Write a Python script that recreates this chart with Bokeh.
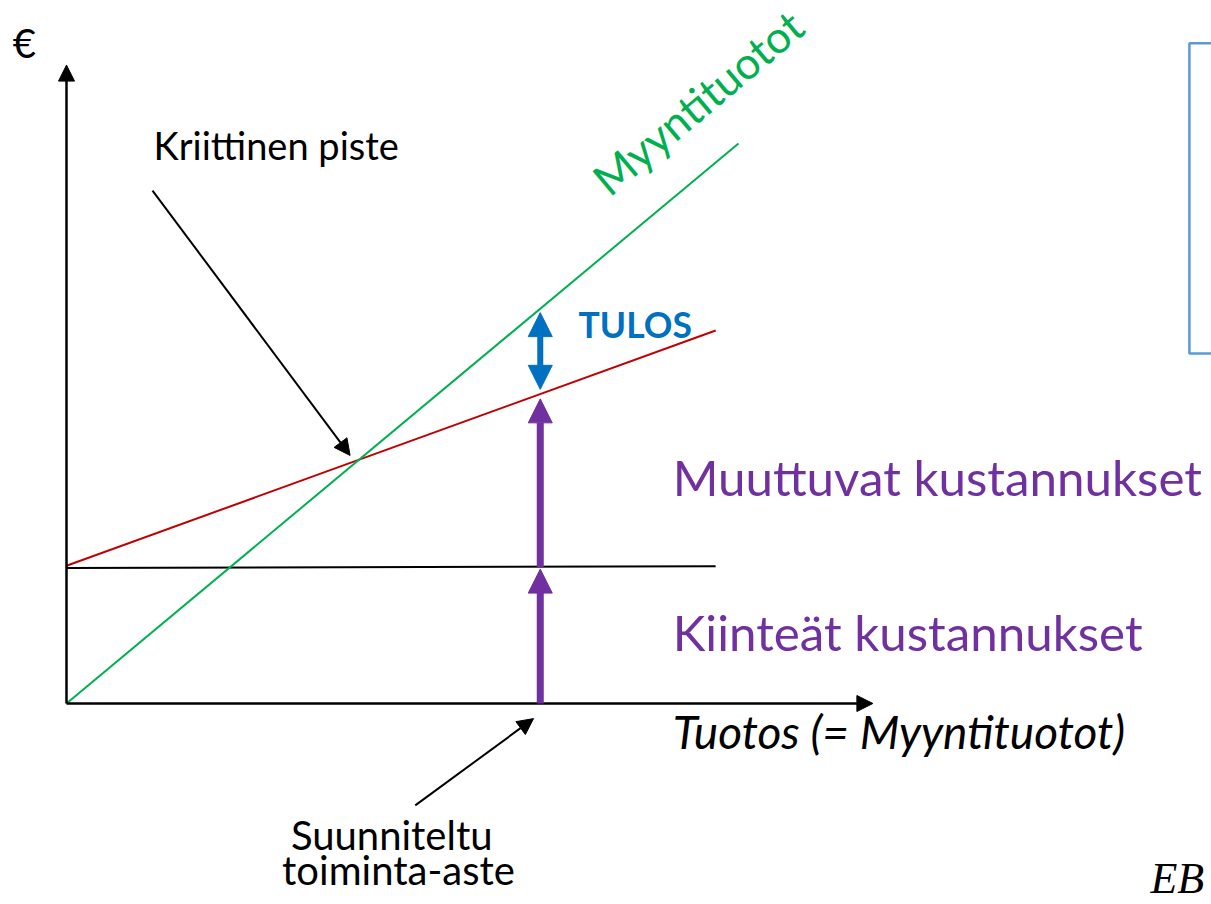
from bokeh.plotting import figure
from bokeh.models import Range1d, Arrow, NormalHead
from bokeh.core.properties import value
from bokeh.embed import file_html
from bokeh.resources import INLINE

# ---- data (conceptual units: output on x, euros on y) ----
sales_output = [0, 100]          # Myyntituotot line
sales_values = [0, 100]
cost_output = [0, 96.6]          # cost lines
fixed_costs = [24.2, 24.5]       # Kiinteät kustannukset
total_costs = [24.6, 66.6]       # Kiinteät + muuttuvat kustannukset
axis_max_output = 120
axis_max_euro = 114
break_even_output = 42.2
break_even_euro = 44.3
planned_output = 70.5            # Suunniteltu toiminta-aste
planned_fixed = 24.3
planned_total_cost = 55.2
planned_sales = 70.5

GREEN = "#00B050"
RED = "#C00000"
PURPLE = "#7030A0"
BLUE = "#0070C0"
BOX = "#5B9BD5"
FONT = "Lato"
PX_PER_Y = 5.6   # screen pixels per euro unit (used to nudge text baselines)

p = figure(width=1211, height=904, output_backend="svg", toolbar_location=None,
           x_range=Range1d(-9.821, 170.387), y_range=Range1d(-35.893, 125.536),
           x_axis_location=None, y_axis_location=None, min_border=0,
           outline_line_color=None, background_fill_color="white")
p.grid.visible = False

# axes drawn as arrows
p.add_layout(Arrow(x_start=0, y_start=0, x_end=0, y_end=axis_max_euro,
                   line_color="black", line_width=2.5,
                   end=NormalHead(size=16, fill_color="black", line_color="black")))
p.add_layout(Arrow(x_start=0, y_start=0, x_end=axis_max_output, y_end=0,
                   line_color="black", line_width=2.5,
                   end=NormalHead(size=16, fill_color="black", line_color="black")))

# lines
p.line(cost_output, fixed_costs, line_color="black", line_width=2)
p.line(cost_output, total_costs, line_color=RED, line_width=2)
p.line(sales_output, sales_values, line_color=GREEN, line_width=2)

# purple arrows (fixed and variable costs at planned level)
p.add_layout(Arrow(x_start=planned_output, y_start=0, x_end=planned_output, y_end=planned_fixed - 0.3,
                   line_color=PURPLE, line_width=7,
                   end=NormalHead(size=24, fill_color=PURPLE, line_color=PURPLE)))
p.add_layout(Arrow(x_start=planned_output, y_start=planned_fixed, x_end=planned_output,
                   y_end=planned_total_cost - 0.8,
                   line_color=PURPLE, line_width=7,
                   end=NormalHead(size=24, fill_color=PURPLE, line_color=PURPLE)))
# result arrow
p.add_layout(Arrow(x_start=planned_output, y_start=planned_total_cost + 0.9, x_end=planned_output,
                   y_end=planned_sales - 0.7,
                   line_color=BLUE, line_width=6,
                   start=NormalHead(size=24, fill_color=BLUE, line_color=BLUE),
                   end=NormalHead(size=24, fill_color=BLUE, line_color=BLUE)))

# annotation arrows
p.add_layout(Arrow(x_start=12.8, y_start=91.6, x_end=break_even_output, y_end=break_even_euro,
                   line_color="black", line_width=2,
                   end=NormalHead(size=16, fill_color="black", line_color="black")))
p.add_layout(Arrow(x_start=51.9, y_start=-18.2, x_end=planned_output - 1.0, y_end=-2.7,
                   line_color="black", line_width=2,
                   end=NormalHead(size=16, fill_color="black", line_color="black")))

# empty text box on the right
p.quad(left=[167.1], right=[180], top=[117.9], bottom=[62.5],
       fill_color=None, line_color=BOX, line_width=2.5)


def txt(x, y, s, size, color="black", style="normal", align="left", font=FONT):
    y_adj = y + 0.32 * size / PX_PER_Y
    p.text(x=[x], y=[y_adj], text=[s], text_font=value(font), text_font_size=value(f"{size}px"),
           text_color=color, text_font_style=style, text_align=align,
           text_baseline="alphabetic")


txt(-8.0, 115.7, "€", 40)
txt(12.95, 97.5, "Kriittinen piste", 38)
p.text(x=[93.9], y=[107.4], text=["Myyntituotot"], text_font=value(FONT),
       text_font_size=value("44px"), text_color=GREEN, text_align="center",
       text_baseline="middle", angle=40, angle_units="deg")
txt(76.2, 65.7, "TULOS", 35.5, BLUE, "bold")
txt(90.2, 37.7, "Muuttuvat kustannukset", 49.3, PURPLE)
txt(90.2, 10.0, "Kiinteät kustannukset", 49.3, PURPLE)
txt(90.2, -7.7, "Tuotos (= Myyntituotot)", 46, "black", "italic")
txt(48.4, -25.7, "Suunniteltu", 40, align="center")
txt(49.4, -32.1, "toiminta-aste", 40, align="center")
txt(161.3, -33.8, "EB", 44, "black", "italic", font="Liberation Serif")

open("out.html", "w").write(file_html(p, INLINE))
